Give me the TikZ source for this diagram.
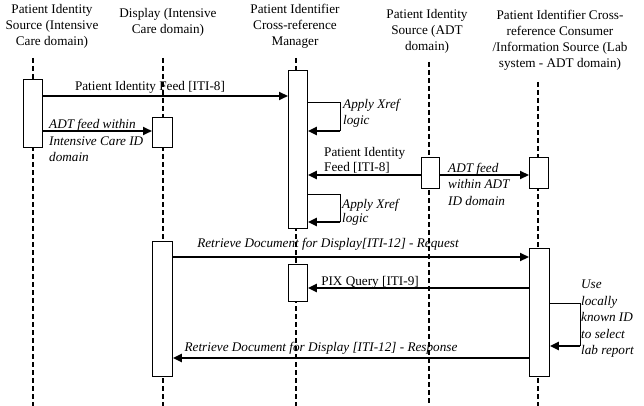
\documentclass[tikz,border=0pt]{standalone}
\usepackage{fontspec}
\setmainfont{Liberation Serif}
\usetikzlibrary{arrows.meta,positioning}
\begin{document}
\begin{tikzpicture}[x=1pt,y=-1pt,
  head/.style={align=center,font=\fontsize{13.2}{16}\selectfont,inner sep=0pt},
  lbl/.style={font=\fontsize{13.2}{15}\selectfont,inner sep=0pt},
  ilbl/.style={align=left,font=\fontsize{13.2}{16.5}\selectfont\itshape,inner sep=0pt},
  life/.style={line width=1.6pt,dash pattern=on 5pt off 3pt},
  actbox/.style={draw,line width=0.9pt,fill=white,minimum width=19pt,inner sep=0pt,anchor=north west},
  msg/.style={line width=2.2pt,-{Triangle[length=9pt,width=8pt]}},
  loopl/.style={line width=0.9pt}
]
\useasboundingbox (0,0) rectangle (644,406);
\fill[white] (0,0) rectangle (644,406);
% headers
\node[head] (h1) at (52,26) {Patient Identity\\Source (Intensive\\Care domain)};
\node[head] (h2) at (168,22) {Display (Intensive\\Care domain)};
\node[head] (h3) at (295,26) {Patient Identifier\\Cross-reference\\Manager};
\node[head] (h4) at (427,31) {Patient Identity\\Source (ADT\\domain)};
\node[head] (h5) at (560,40.5) {Patient Identifier Cross-\\reference Consumer\\/Information Source (Lab\\system - ADT domain)};
% lifelines
\coordinate (t1) at (33,58);  \coordinate (b1) at (33,406);
\coordinate (t2) at (163,58); \coordinate (b2) at (163,406);
\coordinate (t3) at (296,58); \coordinate (b3) at (296,406);
\coordinate (t4) at (429,62); \coordinate (b4) at (429,406);
\coordinate (t5) at (538,82); \coordinate (b5) at (538,406);
\foreach \i in {1,...,5} {\draw[life] (t\i) -- (b\i);}
% activation boxes
\node[actbox,minimum width=19pt,minimum height=68pt] (A) at (23,79) {};
\node[actbox,minimum width=20pt,minimum height=30pt] (B) at (152,117) {};
\node[actbox,minimum width=19pt,minimum height=158pt] (C) at (288,70) {};
\node[actbox,minimum width=18pt,minimum height=31pt] (D) at (421,157) {};
\node[actbox,minimum width=19pt,minimum height=31pt] (E) at (529,157) {};
\node[actbox,minimum width=20pt,minimum height=135pt] (F) at (152,241) {};
\node[actbox,minimum width=19pt,minimum height=37pt] (G) at (288,264) {};
\node[actbox,minimum width=20pt,minimum height=128pt] (H) at (529,248) {};
% messages
\draw[msg] (A.east |- 0,96) -- (C.west |- 0,96);
\node[lbl] (m1) at (150,87) {Patient Identity Feed [ITI-8]};
\draw[msg] (A.east |- 0,131) -- (B.west |- 0,131);
\node[ilbl,anchor=west] (m2) at (49,140.5) {ADT feed within\\Intensive Care ID\\domain};
% loop 1
\coordinate (l1a) at (340,102.5);
\coordinate (l1b) at (340,131);
\draw[loopl] (C.east |- l1a) -- (l1a) -- (l1b);
\draw[msg] (l1b) -- (C.east |- l1b);
\node[ilbl,anchor=west,font=\fontsize{13.2}{16}\selectfont\itshape] (m3) at (343,113) {Apply Xref\\logic};
% ITI-8 second
\draw[msg] (D.west |- 0,175) -- (C.east |- 0,175);
\node[lbl,align=left,anchor=west] (m4) at (324,160) {Patient Identity\\Feed [ITI-8]};
\draw[msg] (D.east |- 0,175) -- (E.west |- 0,175);
\node[ilbl,anchor=west] (m5) at (448,184) {ADT feed\\within ADT\\ID domain};
% loop 2
\coordinate (l2a) at (340,194);
\coordinate (l2b) at (340,222);
\draw[loopl] (C.east |- l2a) -- (l2a) -- (l2b);
\draw[msg] (l2b) -- (C.east |- l2b);
\node[ilbl,anchor=west,font=\fontsize{13.2}{14}\selectfont\itshape] (m6) at (342,212.5) {Apply Xref\\logic};
% retrieve request
\draw[msg] (F.east |- 0,257) -- (H.west |- 0,257);
\node[ilbl] (m7) at (328,244) {Retrieve Document for Display[ITI-12] - Request};
% PIX query
\draw[msg] (H.west |- 0,288) -- (G.east |- 0,288);
\node[lbl] (m8) at (370,282) {PIX Query [ITI-9]};
% loop 3
\coordinate (l3a) at (580,303);
\coordinate (l3b) at (580,346);
\draw[loopl] (H.east |- l3a) -- (l3a) -- (l3b);
\draw[msg] (l3b) -- (H.east |- l3b);
\node[ilbl,anchor=west] (m9) at (581,319) {Use\\locally\\known ID\\to select\\lab report};
% retrieve response
\draw[msg] (H.west |- 0,358) -- (F.east |- 0,358);
\node[ilbl] (m10) at (321,348) {Retrieve Document for Display [ITI-12] - Response};
\end{tikzpicture}
\end{document}
